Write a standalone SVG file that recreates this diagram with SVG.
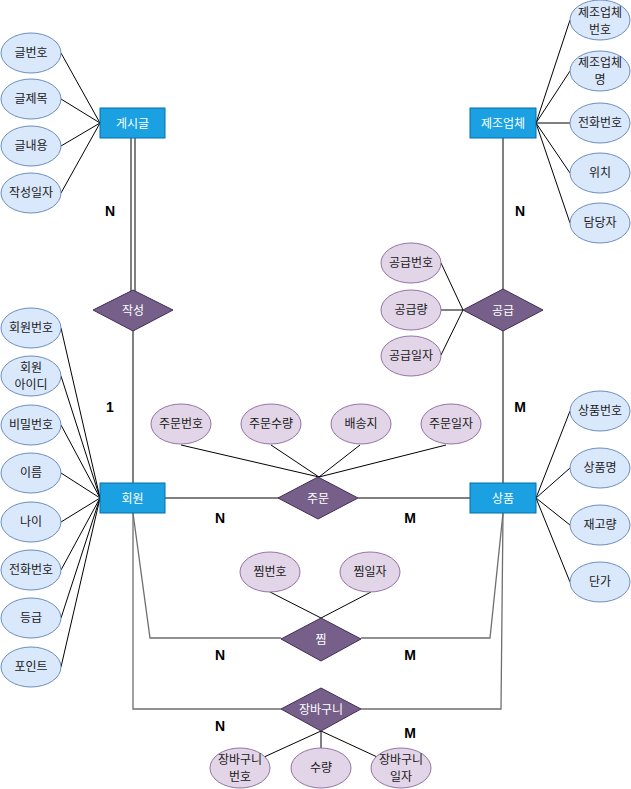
<svg xmlns="http://www.w3.org/2000/svg" width="631" height="789" viewBox="0 0 631 789">
<style>
text{font-family:"Liberation Sans","Noto Sans CJK KR",sans-serif;font-size:12px;text-anchor:middle;fill:#1a1a1a}
.ent rect{fill:#1ba1e2;stroke:#006eaf;stroke-width:1}
.ent text,.rel text{fill:#ffffff}
.rel polygon{fill:#76608a;stroke:#432d57;stroke-width:1}
.att ellipse{fill:#dae8fc;stroke:#6c8ebf;stroke-width:1}
.ratt ellipse{fill:#e1d5e7;stroke:#9673a6;stroke-width:1}
.a{stroke:#000;stroke-width:1;fill:none}
.r{stroke:#808080;stroke-width:2;fill:none}
.r2{stroke:#6e6e6e;stroke-width:1.3;fill:none}
.card{font-weight:bold;font-size:14px;fill:#000}
</style>
<rect width="631" height="789" fill="#fff"/>
<g id="connectors">
<!-- 게시글 attrs -->
<line class="a" x1="61" y1="53" x2="100" y2="123"/>
<line class="a" x1="61" y1="99" x2="100" y2="123"/>
<line class="a" x1="61" y1="146" x2="100" y2="123"/>
<line class="a" x1="61" y1="193" x2="100" y2="123"/>
<!-- 제조업체 attrs -->
<line class="a" x1="536" y1="123" x2="570" y2="20"/>
<line class="a" x1="536" y1="123" x2="570" y2="71"/>
<line class="a" x1="536" y1="123" x2="570" y2="123"/>
<line class="a" x1="536" y1="123" x2="570" y2="173"/>
<line class="a" x1="536" y1="123" x2="570" y2="223"/>
<!-- 회원 attrs -->
<line class="a" x1="61" y1="328" x2="100" y2="498"/>
<line class="a" x1="61" y1="376" x2="100" y2="498"/>
<line class="a" x1="61" y1="425" x2="100" y2="498"/>
<line class="a" x1="61" y1="473" x2="100" y2="498"/>
<line class="a" x1="61" y1="522" x2="100" y2="498"/>
<line class="a" x1="61" y1="570" x2="100" y2="498"/>
<line class="a" x1="61" y1="618" x2="100" y2="498"/>
<line class="a" x1="61" y1="667" x2="100" y2="498"/>
<!-- 상품 attrs -->
<line class="a" x1="536" y1="498" x2="570" y2="411"/>
<line class="a" x1="536" y1="498" x2="570" y2="468"/>
<line class="a" x1="536" y1="498" x2="570" y2="525"/>
<line class="a" x1="536" y1="498" x2="570" y2="582"/>
<!-- 공급 attrs -->
<line class="a" x1="441" y1="263" x2="463" y2="310"/>
<line class="a" x1="441" y1="310" x2="463" y2="310"/>
<line class="a" x1="441" y1="355" x2="463" y2="310"/>
<!-- 주문 attrs -->
<line class="a" x1="181" y1="445" x2="319" y2="477"/>
<line class="a" x1="271" y1="445" x2="319" y2="477"/>
<line class="a" x1="360" y1="445" x2="319" y2="477"/>
<line class="a" x1="446" y1="445" x2="319" y2="477"/>
<!-- 찜 attrs -->
<line class="a" x1="270" y1="592" x2="321" y2="618"/>
<line class="a" x1="371" y1="592" x2="321" y2="618"/>
<!-- 장바구니 attrs -->
<line class="a" x1="321" y1="731" x2="240" y2="768"/>
<line class="a" x1="321" y1="731" x2="321" y2="768"/>
<line class="a" x1="321" y1="731" x2="401" y2="768"/>
<!-- relationships -->
<line class="r" x1="131" y1="138" x2="131" y2="292"/>
<line class="r" x1="135" y1="138" x2="135" y2="292"/>
<line class="r" x1="133" y1="330" x2="133" y2="483"/>
<line class="r" x1="503" y1="138" x2="503" y2="290"/>
<line class="r" x1="503" y1="330" x2="503" y2="483"/>
<line class="r" x1="165" y1="498" x2="279" y2="498"/>
<line class="r" x1="358" y1="498" x2="470" y2="498"/>
<polyline class="r2" points="133,513 150,638 281,638"/>
<polyline class="r2" points="503,513 490,638 361,638"/>
<polyline class="r2" points="133,513 133,709 281,709"/>
<polyline class="r2" points="503,513 501,709 361,709"/>
</g>
<g id="e-post" class="ent"><rect x="100" y="108" width="65" height="30"/><text x="132.5" y="127.5">게시글</text></g>
<g id="e-maker" class="ent"><rect x="470" y="108" width="66" height="30"/><text x="503" y="127.5">제조업체</text></g>
<g id="e-member" class="ent"><rect x="100" y="483" width="65" height="30"/><text x="132.5" y="502.5">회원</text></g>
<g id="e-product" class="ent"><rect x="470" y="483" width="66" height="30"/><text x="503" y="502.5">상품</text></g>
<g id="r-write" class="rel"><polygon points="133,290 173,310 133,331 93,310"/><text x="133" y="314.5">작성</text></g>
<g id="r-supply" class="rel"><polygon points="503,289 543,310 503,331 463,310"/><text x="503" y="314.5">공급</text></g>
<g id="r-order" class="rel"><polygon points="318,477 358,498 318,519 278,498"/><text x="318" y="502.5">주문</text></g>
<g id="r-wish" class="rel"><polygon points="321,618 361,639 321,661 281,639"/><text x="321" y="643.5">찜</text></g>
<g id="r-cart" class="rel"><polygon points="321,688 361,709 321,731 281,709"/><text x="321" y="713.5">장바구니</text></g>
<g id="a-postno" class="att"><ellipse cx="31" cy="53" rx="30" ry="20"/><text x="31" y="57">글번호</text></g>
<g id="a-title" class="att"><ellipse cx="31" cy="99" rx="30" ry="20"/><text x="31" y="103">글제목</text></g>
<g id="a-content" class="att"><ellipse cx="31" cy="146" rx="30" ry="20"/><text x="31" y="150">글내용</text></g>
<g id="a-wdate" class="att"><ellipse cx="31" cy="193" rx="30" ry="20"/><text x="31" y="197">작성일자</text></g>
<g id="a-makerno" class="att"><ellipse cx="600" cy="20" rx="30" ry="20"/><text x="600" y="17">제조업체</text><text x="600" y="34">번호</text></g>
<g id="a-makername" class="att"><ellipse cx="600" cy="71" rx="30" ry="20"/><text x="600" y="67">제조업체</text><text x="600" y="84">명</text></g>
<g id="a-mphone" class="att"><ellipse cx="600" cy="123" rx="30" ry="20"/><text x="600" y="127">전화번호</text></g>
<g id="a-loc" class="att"><ellipse cx="600" cy="173" rx="30" ry="20"/><text x="600" y="177">위치</text></g>
<g id="a-manager" class="att"><ellipse cx="600" cy="223" rx="30" ry="20"/><text x="600" y="227">담당자</text></g>
<g id="a-memno" class="att"><ellipse cx="31" cy="328" rx="30" ry="20"/><text x="31" y="332">회원번호</text></g>
<g id="a-memid" class="att"><ellipse cx="31" cy="376" rx="30" ry="20"/><text x="31" y="372">회원</text><text x="31" y="389">아이디</text></g>
<g id="a-pw" class="att"><ellipse cx="31" cy="425" rx="30" ry="20"/><text x="31" y="429">비밀번호</text></g>
<g id="a-name" class="att"><ellipse cx="31" cy="473" rx="30" ry="20"/><text x="31" y="477">이름</text></g>
<g id="a-age" class="att"><ellipse cx="31" cy="522" rx="30" ry="20"/><text x="31" y="526">나이</text></g>
<g id="a-phone" class="att"><ellipse cx="31" cy="570" rx="30" ry="20"/><text x="31" y="574">전화번호</text></g>
<g id="a-grade" class="att"><ellipse cx="31" cy="618" rx="30" ry="20"/><text x="31" y="622">등급</text></g>
<g id="a-point" class="att"><ellipse cx="31" cy="667" rx="30" ry="20"/><text x="31" y="671">포인트</text></g>
<g id="a-prodno" class="att"><ellipse cx="600" cy="411" rx="30" ry="20"/><text x="600" y="415">상품번호</text></g>
<g id="a-prodname" class="att"><ellipse cx="600" cy="468" rx="30" ry="20"/><text x="600" y="472">상품명</text></g>
<g id="a-stock" class="att"><ellipse cx="600" cy="525" rx="30" ry="20"/><text x="600" y="529">재고량</text></g>
<g id="a-price" class="att"><ellipse cx="600" cy="582" rx="30" ry="20"/><text x="600" y="586">단가</text></g>
<g id="a-supno" class="ratt"><ellipse cx="411" cy="263" rx="30" ry="20"/><text x="411" y="267">공급번호</text></g>
<g id="a-supqty" class="ratt"><ellipse cx="411" cy="310" rx="30" ry="20"/><text x="411" y="314">공급량</text></g>
<g id="a-supdate" class="ratt"><ellipse cx="411" cy="356" rx="30" ry="20"/><text x="411" y="360">공급일자</text></g>
<g id="a-ordno" class="ratt"><ellipse cx="181" cy="424" rx="30" ry="20"/><text x="181" y="428">주문번호</text></g>
<g id="a-ordqty" class="ratt"><ellipse cx="271" cy="424" rx="30" ry="20"/><text x="271" y="428">주문수량</text></g>
<g id="a-addr" class="ratt"><ellipse cx="361" cy="424" rx="30" ry="20"/><text x="361" y="428">배송지</text></g>
<g id="a-orddate" class="ratt"><ellipse cx="451" cy="424" rx="30" ry="20"/><text x="451" y="428">주문일자</text></g>
<g id="a-wishno" class="ratt"><ellipse cx="270" cy="572" rx="30" ry="20"/><text x="270" y="576">찜번호</text></g>
<g id="a-wishdate" class="ratt"><ellipse cx="370" cy="572" rx="30" ry="20"/><text x="370" y="576">찜일자</text></g>
<g id="a-cartno" class="ratt"><ellipse cx="240" cy="768" rx="30" ry="20"/><text x="240" y="764">장바구니</text><text x="240" y="781">번호</text></g>
<g id="a-cartqty" class="ratt"><ellipse cx="321" cy="768" rx="30" ry="20"/><text x="321" y="772">수량</text></g>
<g id="a-cartdate" class="ratt"><ellipse cx="401" cy="768" rx="30" ry="20"/><text x="401" y="764">장바구니</text><text x="401" y="781">일자</text></g>
<g id="labels">
<text class="card" x="110" y="216">N</text>
<text class="card" x="110" y="412">1</text>
<text class="card" x="520" y="216">N</text>
<text class="card" x="520" y="412">M</text>
<text class="card" x="220" y="523">N</text>
<text class="card" x="410" y="523">M</text>
<text class="card" x="220" y="660">N</text>
<text class="card" x="410" y="660">M</text>
<text class="card" x="220" y="731">N</text>
<text class="card" x="410" y="738">M</text>
</g>
</svg>
